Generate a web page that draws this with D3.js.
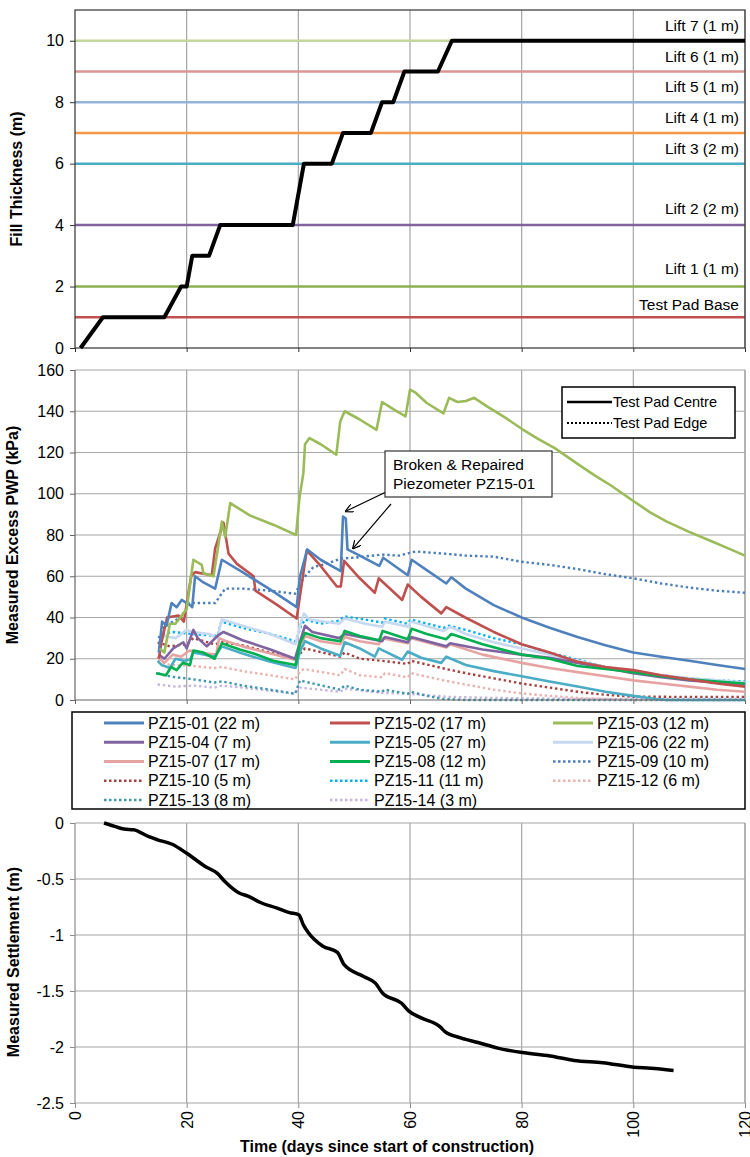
<!DOCTYPE html>
<html>
<head>
<meta charset="utf-8">
<script src="https://cdn.jsdelivr.net/npm/d3@7"></script>
<style>
  body { margin: 0; background: #fff; }
  text { font-family: "Liberation Sans", Arial, sans-serif; fill: #000; }
</style>
</head>
<body>
<svg id="chart" width="750" height="1157"></svg>
<script>
// fill placement (top panel)
var fillDays = [1, 5, 16, 19, 20, 21, 24, 26, 39, 41, 46, 48, 53, 55, 57, 59, 65, 67.5, 120];
var fillThickness = [0, 1, 1, 2, 2, 3, 3, 4, 4, 6, 6, 7, 7, 8, 8, 9, 9, 10, 10];

var liftLevels = [1, 2, 4, 6, 7, 8, 9, 10];
var liftLabels = ['Test Pad Base', 'Lift 1 (1 m)', 'Lift 2 (2 m)', 'Lift 3 (2 m)',
                  'Lift 4 (1 m)', 'Lift 5 (1 m)', 'Lift 6 (1 m)', 'Lift 7 (1 m)'];
var liftLabelAt = [1.4, 2.6, 4.55, 6.5, 7.5, 8.5, 9.5, 10.5];
var fillTicks = [0, 2, 4, 6, 8, 10];

// excess pore pressure, [day, kPa]
var pz01 = [[15, 23], [15.3, 30], [15.6, 38], [16.4, 36], [17.3, 47], [18.2, 45], [19.1, 48.5], [20.6, 46],
  [21, 45], [21.5, 60], [23, 57], [25.1, 54], [26.3, 68], [30, 62], [35, 53.5], [39.7, 45], [40.3, 60],
  [41.6, 73], [44, 68], [47.6, 62.5], [48, 89], [48.5, 88], [48.8, 73], [51, 70], [54.5, 65], [55.2, 69],
  [59.6, 60.5], [60.3, 68], [63, 63], [66.5, 56.5], [67.4, 59.5], [70, 54], [75, 46], [80, 40], [85, 35],
  [90, 30.5], [95, 26.5], [100, 23], [105, 21], [110, 19], [115, 17], [120, 15]];
var pz02 = [[15, 20], [15.5, 28], [16.5, 40], [18.5, 41], [19.5, 38], [20.8, 60], [21.5, 62], [24.5, 60.5],
  [25.1, 73.5], [26.6, 86], [27.5, 71], [29, 66], [32, 60], [32.3, 53], [36, 46.5], [39.7, 39.5], [40.9, 61.5],
  [41.5, 72.5], [44, 65], [46.9, 55], [47.6, 55], [48.2, 67.5], [51, 59], [53.7, 52], [54.4, 59], [58.6, 48.5],
  [59.6, 56], [62, 50], [65.6, 42], [66.5, 45], [69.9, 40], [75, 33], [80, 27], [85, 23], [90, 18.5],
  [95, 16], [100, 14.5], [105, 12], [110, 10], [115, 8], [120, 6.5]];
var pz03 = [[15.2, 25], [16, 23], [17, 37], [18, 37], [19.4, 42], [20, 44], [21.2, 68], [22.7, 65.5],
  [23, 61.5], [24.8, 60], [25.5, 72], [26.3, 86.5], [26.9, 79], [27.8, 95.5], [31.3, 89.5], [35.5, 85],
  [39.6, 80], [40.2, 98], [40.9, 110], [41.2, 124], [42, 127], [44, 124], [46.8, 119], [47.5, 135],
  [48.3, 140], [51, 136], [54, 131], [55, 144.5], [57, 141], [59.2, 137.5], [60, 150.5], [61, 149],
  [63, 144], [66, 139], [67, 146.5], [68.5, 144.5], [70, 145], [71.5, 146.5], [74, 142], [77, 137],
  [80, 131.5], [83, 126.5], [86, 122], [90, 114.5], [93, 109], [96, 104], [100, 96.5], [103, 91],
  [106, 86.5], [110, 81.5], [114, 77], [117, 73.5], [120, 70]];
var pz04 = [[15, 22], [16, 20], [17.6, 25], [19.4, 28], [20, 25], [21.2, 34], [22, 30], [23.6, 26],
  [25.7, 31.5], [26.6, 33], [30, 29], [35, 24.5], [39.4, 20], [40.5, 30], [41.2, 36], [42.5, 33],
  [47.3, 30], [48.3, 32], [55, 28.5], [55.5, 30.5], [59.6, 28], [60.2, 30.5], [66.5, 26], [67.2, 27.5],
  [73, 24.5], [80, 22], [85, 20.5], [90, 18], [95, 15.5], [100, 13], [105, 11], [110, 9.5], [115, 8.5], [120, 7.5]];
var pz05 = [[14.8, 19], [15.5, 17], [17, 15.5], [18, 20], [19.5, 19], [20.6, 19.5], [21.2, 23], [25, 21],
  [26.3, 26], [30, 22.5], [35, 18.5], [39.5, 15.5], [40.3, 23.5], [41.2, 28.5], [44, 25], [47.5, 21.5],
  [48.3, 28], [51, 25], [53.7, 21], [54.4, 25], [58.6, 19.5], [59.6, 23.5], [62, 20.5], [65.6, 18],
  [66.5, 21], [70, 17], [75, 14], [80, 11.5], [85, 9], [90, 6.5], [95, 4], [100, 2], [104, 0.5], [106, 0], [120, 0]];
var pz06 = [[15, 28], [16, 31], [18, 30], [20, 34], [21, 33], [24, 32], [25.5, 30], [26.3, 39], [30, 36],
  [35, 32], [39.5, 27], [40.5, 38], [41, 42], [42, 39], [47.3, 37], [48.3, 39.5], [52, 37], [55, 35.5],
  [55.5, 38], [59.6, 35.5], [60.2, 38], [66, 33.5], [67.2, 35.5], [70, 32], [75, 28], [80, 25], [85, 22],
  [90, 19], [95, 16], [100, 13.5], [105, 12], [110, 10.5], [115, 9.5], [120, 8.5]];
var pz07 = [[14.8, 21], [16, 18], [17.5, 22], [19, 21], [20.5, 24], [22, 23], [25.3, 22], [25.8, 30],
  [26.6, 29], [30, 26], [35, 22.5], [39.4, 19.5], [40.3, 26], [41.2, 31], [44, 28.5], [47.5, 27],
  [48.3, 30.5], [51, 28.5], [54.4, 27], [55, 30], [59.6, 27.5], [60.2, 30], [66.5, 25.5], [67.2, 27],
  [73, 22], [80, 18], [85, 15.5], [90, 13.5], [95, 11.5], [100, 9.5], [105, 8], [110, 6.5], [115, 5], [120, 4]];
var pz08 = [[14.5, 13], [16.3, 12], [17.2, 16], [18.2, 14.5], [19.3, 18], [20.6, 17], [21.2, 24], [23, 23],
  [25, 20], [26.3, 27.5], [29.5, 24.5], [32, 22.5], [35.5, 19], [39.5, 17], [40.3, 27.5], [41.2, 32.5],
  [44, 30], [47.5, 28.5], [48.3, 33.5], [51, 31], [54.5, 29], [55.1, 33.5], [59.6, 29.5], [60.3, 34.5],
  [63, 32], [66.5, 29.5], [67.4, 32], [73, 27], [80, 22], [85, 20], [90, 16.5], [95, 15], [100, 13.5],
  [105, 11.5], [110, 10], [115, 9], [120, 8]];
var pz09 = [[15, 30], [16, 36], [17.5, 38], [19, 40], [20.5, 47], [25.1, 47], [26.9, 54], [30, 54], [35, 53],
  [39.4, 51.5], [40.9, 59], [42.7, 64.5], [45, 66], [47.5, 68.5], [50, 69], [55, 70.5], [58, 70], [61, 72],
  [66, 71], [70, 70], [75, 69.5], [80, 67], [85, 65.5], [90, 63.5], [95, 61], [100, 59], [105, 56.5],
  [110, 54.5], [115, 53], [120, 52]];
var pz10 = [[14.8, 28], [17, 26], [20, 27], [21.2, 30], [25, 27], [26.5, 28], [30, 26.5], [35, 23],
  [39.4, 20], [40.5, 23], [41.2, 25], [47.5, 21], [48.3, 23], [51, 20], [55, 19], [59.6, 17.5], [60.2, 19],
  [66.5, 15], [70, 13], [75, 10.5], [80, 8], [85, 6], [90, 4], [95, 2.5], [100, 1.6], [110, 1.5], [120, 1.5]];
var pz11 = [[15, 30], [16, 32], [17.5, 33], [21, 32], [25.5, 31], [26.2, 38], [30, 35], [35, 32],
  [39.5, 28.5], [40.5, 36], [41.2, 39], [44, 37], [47.3, 38.5], [48.3, 40.5], [52, 39], [55, 37.5],
  [55.5, 39.5], [59.5, 37], [60.2, 39], [66, 35], [67, 36], [70, 34], [75, 30], [80, 27], [85, 23],
  [90, 19.5], [95, 16], [100, 13.5], [105, 12], [110, 10.5], [115, 9.5], [120, 9]];
var pz12 = [[14.8, 19], [17, 17], [21.2, 16.5], [25, 15.5], [26.3, 16], [30, 14], [35, 12], [39.4, 10],
  [40.3, 14], [41, 15], [47.5, 12], [48.3, 15], [51, 12], [55, 11], [55.5, 13], [59.6, 11], [60.2, 13],
  [66, 9.5], [70, 7.5], [75, 5], [80, 3.2], [85, 2], [90, 1], [95, 0.5], [100, 0], [120, 0]];
var pz13 = [[14.8, 13], [16, 12], [18, 11], [20, 10.5], [21.2, 10], [25, 8.5], [26.3, 9], [30, 7], [35, 5],
  [39.4, 3], [40.3, 9.5], [41, 9], [47.5, 5], [48.3, 7], [51, 5], [55, 4], [55.5, 5], [59.6, 3], [60.2, 4],
  [63, 2], [66, 0.5], [70, 0], [120, 0]];
var pz14 = [[14.8, 7.5], [18, 6.5], [21.2, 7], [25, 6], [26.3, 7], [30, 6], [35, 4.5], [39.4, 3], [40.3, 6],
  [47.5, 4], [48.3, 5.5], [55, 3.5], [60, 3], [67, 1.5], [75, 1], [90, 0.5], [120, 0.5]];

var pzSeries = [pz01, pz02, pz03, pz04, pz05, pz06, pz07, pz08, pz09, pz10, pz11, pz12, pz13, pz14];
var pzNames = ['PZ15-01 (22 m)', 'PZ15-02 (17 m)', 'PZ15-03 (12 m)', 'PZ15-04 (7 m)', 'PZ15-05 (27 m)',
  'PZ15-06 (22 m)', 'PZ15-07 (17 m)', 'PZ15-08 (12 m)', 'PZ15-09 (10 m)', 'PZ15-10 (5 m)',
  'PZ15-11 (11 m)', 'PZ15-12 (6 m)', 'PZ15-13 (8 m)', 'PZ15-14 (3 m)'];
var pzTicks = [0, 20, 40, 60, 80, 100, 120, 140, 160];

// settlement
var settleDays = [5.2, 7.1, 8.8, 10.5, 13.1, 14.8, 17.4, 20, 23.4, 25.5, 26.8, 29.4, 31.1, 33.2, 36.2, 38.4,
  40.1, 40.9, 41.8, 44.4, 47, 48.2, 51.7, 53.8, 55.1, 58.5, 59.8, 62, 65.4, 66.2, 69.2, 72.2, 75.7, 80.1,
  85.1, 89.4, 94.5, 100.1, 103.1, 107.2];
var settlement = [0, -0.03, -0.054, -0.06, -0.12, -0.15, -0.19, -0.27, -0.39, -0.45, -0.52, -0.625, -0.655,
  -0.71, -0.76, -0.8, -0.82, -0.91, -0.98, -1.1, -1.155, -1.265, -1.37, -1.43, -1.52, -1.61, -1.68, -1.74,
  -1.82, -1.86, -1.92, -1.96, -2.01, -2.05, -2.08, -2.12, -2.14, -2.18, -2.19, -2.21];
var settleTicks = [0, -0.5, -1, -1.5, -2, -2.5];
var dayTicks = [0, 20, 40, 60, 80, 100, 120];

// styles
var liftColors = ['#c0504d', '#8db04f', '#8064a2', '#4bacc6', '#f79646', '#95b3d7', '#d99694', '#c3d69b'];
var pzColors = ['#4f81bd', '#c0504d', '#9bbb59', '#8064a2', '#4bacc6', '#c6d9f1', '#e6a3a1', '#00b050',
  '#4a7ebb', '#a5423f', '#00b0f0', '#eab2b0', '#3f97ad', '#c5b5dc'];
var pzDotted = [false, false, false, false, false, false, false, false, true, true, true, true, true, true];

var svg = d3.select('#chart');
var gridColor = '#a6a6a6';

var x = d3.scaleLinear().domain([0, 120]).range([75, 745]);
var yFill = d3.scaleLinear().domain([0, 11]).range([348, 10]);
var yPwp = d3.scaleLinear().domain([0, 160]).range([700, 370]);
var ySettle = d3.scaleLinear().domain([-2.5, 0]).range([1103, 823]);

var vGrid = function (g, yTop, yBot) {
  g.selectAll('line.v')
    .data(dayTicks.slice(1))
    .enter()
    .append('line')
    .attr('x1', function (d) { return x(d); })
    .attr('x2', function (d) { return x(d); })
    .attr('y1', yTop).attr('y2', yBot)
    .attr('stroke', gridColor).attr('stroke-width', 1.2);
};

var hGrid = function (g, scale, ticks) {
  g.selectAll('line.h')
    .data(ticks)
    .enter()
    .append('line')
    .attr('x1', x(0)).attr('x2', x(120))
    .attr('y1', function (d) { return scale(d); })
    .attr('y2', function (d) { return scale(d); })
    .attr('stroke', gridColor).attr('stroke-width', 1.2);
};

var styleAxis = function (g, color) {
  g.select('.domain').remove();
  g.selectAll('.tick line').attr('stroke', color);
  g.selectAll('.tick text').style('font-size', '16px').attr('fill', '#000');
};

var yTitle = function (label, cx, cy) {
  svg.append('text')
    .attr('transform', 'translate(' + cx + ',' + cy + ') rotate(-90)')
    .attr('text-anchor', 'middle')
    .style('font-size', '16px')
    .style('font-weight', 'bold')
    .text(label);
};

// ---------- top panel: fill thickness ----------
var fillPanel = svg.append('g');
vGrid(fillPanel, yFill(11), yFill(0));

fillPanel.selectAll('line.lift')
  .data(liftLevels)
  .enter()
  .append('line')
  .attr('x1', x(0)).attr('x2', x(120))
  .attr('y1', function (d) { return yFill(d); })
  .attr('y2', function (d) { return yFill(d); })
  .attr('stroke', function (d, i) { return liftColors[i]; })
  .attr('stroke-width', 2.5);

fillPanel.append('rect')
  .attr('x', x(0)).attr('y', yFill(11))
  .attr('width', x(120) - x(0)).attr('height', yFill(0) - yFill(11))
  .attr('fill', 'none').attr('stroke', '#333').attr('stroke-width', 1.2);

fillPanel.selectAll('text.lift')
  .data(liftLabels)
  .enter()
  .append('text')
  .attr('x', 739)
  .attr('y', function (d, i) { return yFill(liftLabelAt[i]); })
  .attr('dy', '0.35em')
  .attr('text-anchor', 'end')
  .style('font-size', '15.5px')
  .text(function (d) { return d; });

var fillLine = d3.line()
  .x(function (d, i) { return x(fillDays[i]); })
  .y(function (d) { return yFill(d); });

fillPanel.append('path')
  .datum(fillThickness)
  .attr('d', fillLine)
  .attr('fill', 'none')
  .attr('stroke', '#000')
  .attr('stroke-width', 4)
  .attr('stroke-linejoin', 'round');

fillPanel.append('g')
  .attr('transform', 'translate(' + x(0) + ',0)')
  .call(d3.axisLeft(yFill).tickValues(fillTicks).tickSize(5).tickPadding(6))
  .call(styleAxis, '#333');

fillPanel.append('g')
  .attr('transform', 'translate(0,' + yFill(0) + ')')
  .call(d3.axisBottom(x).tickValues(dayTicks).tickSize(4).tickFormat(''))
  .call(styleAxis, '#333');

yTitle('Fill Thickness (m)', 22, 179);

// ---------- middle panel: excess pore pressure ----------
var pwpPanel = svg.append('g');
vGrid(pwpPanel, yPwp(160), yPwp(0));
hGrid(pwpPanel, yPwp, pzTicks.slice(1));
pwpPanel.append('line')
  .attr('x1', x(120)).attr('x2', x(120))
  .attr('y1', yPwp(160)).attr('y2', yPwp(0))
  .attr('stroke', gridColor).attr('stroke-width', 1.2);

var pwpLine = d3.line()
  .x(function (d) { return x(d[0]); })
  .y(function (d) { return yPwp(d[1]); });

var drawOrder = [13, 12, 11, 10, 9, 8, 6, 5, 4, 3, 7, 1, 0, 2];
pwpPanel.selectAll('path.pz')
  .data(drawOrder)
  .enter()
  .append('path')
  .attr('d', function (k) { return pwpLine(pzSeries[k]); })
  .attr('fill', 'none')
  .attr('stroke', function (k) { return pzColors[k]; })
  .attr('stroke-width', function (k) { return pzDotted[k] ? 2.4 : 2.6; })
  .attr('stroke-dasharray', function (k) { return pzDotted[k] ? '2.4,2.8' : null; })
  .attr('stroke-linejoin', 'round');

pwpPanel.append('line')
  .attr('x1', x(0)).attr('x2', x(0))
  .attr('y1', yPwp(160)).attr('y2', yPwp(0))
  .attr('stroke', '#666').attr('stroke-width', 1.2);
pwpPanel.append('line')
  .attr('x1', x(0)).attr('x2', x(120))
  .attr('y1', yPwp(0)).attr('y2', yPwp(0))
  .attr('stroke', '#666').attr('stroke-width', 1.2);

pwpPanel.append('g')
  .attr('transform', 'translate(' + x(0) + ',0)')
  .call(d3.axisLeft(yPwp).tickValues(pzTicks).tickSize(5).tickPadding(6))
  .call(styleAxis, '#666');

pwpPanel.append('g')
  .attr('transform', 'translate(0,' + yPwp(0) + ')')
  .call(d3.axisBottom(x).tickValues(dayTicks).tickSize(4).tickFormat(''))
  .call(styleAxis, '#666');

yTitle('Measured Excess PWP (kPa)', 18, 535);

// centre / edge key
var key = pwpPanel.append('g');
key.append('rect')
  .attr('x', 562).attr('y', 387).attr('width', 173).attr('height', 51)
  .attr('fill', '#fff').attr('stroke', '#000').attr('stroke-width', 1.5);
key.append('line')
  .attr('x1', 567).attr('x2', 612).attr('y1', 402).attr('y2', 402)
  .attr('stroke', '#000').attr('stroke-width', 2.5);
key.append('line')
  .attr('x1', 567).attr('x2', 612).attr('y1', 423).attr('y2', 423)
  .attr('stroke', '#000').attr('stroke-width', 2.2).attr('stroke-dasharray', '2,2');
key.append('text').attr('x', 613).attr('y', 402).attr('dy', '0.35em')
  .style('font-size', '14.5px').text('Test Pad Centre');
key.append('text').attr('x', 613).attr('y', 423).attr('dy', '0.35em')
  .style('font-size', '14.5px').text('Test Pad Edge');

// callout for the broken piezometer
svg.append('defs').append('marker')
  .attr('id', 'arrow')
  .attr('viewBox', '0 0 10 10')
  .attr('refX', 9).attr('refY', 5)
  .attr('markerWidth', 7).attr('markerHeight', 7)
  .attr('orient', 'auto')
  .append('path')
  .attr('d', 'M0,0 L10,5 L0,10')
  .attr('fill', 'none').attr('stroke', '#000').attr('stroke-width', 1.5);

var note = pwpPanel.append('g');
note.append('line')
  .attr('x1', 386).attr('y1', 492)
  .attr('x2', x(48.5)).attr('y2', yPwp(91.5))
  .attr('stroke', '#000').attr('stroke-width', 1.2).attr('marker-end', 'url(#arrow)');
note.append('line')
  .attr('x1', 391).attr('y1', 504)
  .attr('x2', x(49.8)).attr('y2', yPwp(73.5))
  .attr('stroke', '#000').attr('stroke-width', 1.2).attr('marker-end', 'url(#arrow)');
note.append('rect')
  .attr('x', 385).attr('y', 451).attr('width', 167).attr('height', 46)
  .attr('fill', '#fff').attr('stroke', '#333').attr('stroke-width', 1.2);
note.append('text').attr('x', 393).attr('y', 470).style('font-size', '15.5px').text('Broken & Repaired');
note.append('text').attr('x', 393).attr('y', 489).style('font-size', '15.5px').text('Piezometer PZ15-01');

// ---------- series legend ----------
var legend = svg.append('g');
legend.append('rect')
  .attr('x', 72).attr('y', 712).attr('width', 673).attr('height', 97)
  .attr('fill', '#fff').attr('stroke', '#000').attr('stroke-width', 1.5);

var legendCols = [104, 330, 553];
var legendRow = d3.scaleLinear().domain([0, 4]).range([723, 800]);

var item = legend.selectAll('g.item')
  .data(pzNames)
  .enter()
  .append('g')
  .attr('transform', function (d, i) {
    return 'translate(' + legendCols[i % 3] + ',' + legendRow(Math.floor(i / 3)) + ')';
  });

item.append('line')
  .attr('x1', 0).attr('x2', 40).attr('y1', 0).attr('y2', 0)
  .attr('stroke', function (d, i) { return pzColors[i]; })
  .attr('stroke-width', function (d, i) { return pzDotted[i] ? 2.6 : 3; })
  .attr('stroke-dasharray', function (d, i) { return pzDotted[i] ? '2.5,2.5' : null; });

item.append('text')
  .attr('x', 44).attr('y', 0).attr('dy', '0.35em')
  .style('font-size', '16px')
  .text(function (d) { return d; });

// ---------- bottom panel: settlement ----------
var settlePanel = svg.append('g');
vGrid(settlePanel, ySettle(0), ySettle(-2.5));
hGrid(settlePanel, ySettle, settleTicks);
settlePanel.append('line')
  .attr('x1', x(120)).attr('x2', x(120))
  .attr('y1', ySettle(0)).attr('y2', ySettle(-2.5))
  .attr('stroke', gridColor).attr('stroke-width', 1.2);
settlePanel.append('line')
  .attr('x1', x(0)).attr('x2', x(0))
  .attr('y1', ySettle(0)).attr('y2', ySettle(-2.5))
  .attr('stroke', '#8c8c8c').attr('stroke-width', 1.2);

var settleLine = d3.line()
  .curve(d3.curveMonotoneX)
  .x(function (d, i) { return x(settleDays[i]); })
  .y(function (d) { return ySettle(d); });

settlePanel.append('path')
  .datum(settlement)
  .attr('d', settleLine)
  .attr('fill', 'none')
  .attr('stroke', '#000')
  .attr('stroke-width', 3.5)
  .attr('stroke-linejoin', 'round');

settlePanel.append('g')
  .attr('transform', 'translate(' + x(0) + ',0)')
  .call(d3.axisLeft(ySettle).tickValues(settleTicks).tickSize(5).tickPadding(6)
    .tickFormat(function (d) { return String(d); }))
  .call(styleAxis, '#8c8c8c');

var xAxis = settlePanel.append('g')
  .attr('transform', 'translate(0,' + ySettle(-2.5) + ')')
  .call(d3.axisBottom(x).tickValues(dayTicks).tickSize(5))
  .call(styleAxis, '#8c8c8c');

xAxis.selectAll('.tick text')
  .attr('transform', 'rotate(-90)')
  .attr('x', -8).attr('y', 0).attr('dy', '0.35em')
  .attr('text-anchor', 'end');

yTitle('Measured Settlement (m)', 19, 962);

svg.append('text')
  .attr('x', 387).attr('y', 1152)
  .attr('text-anchor', 'middle')
  .style('font-size', '16px')
  .style('font-weight', 'bold')
  .text('Time (days since start of construction)');
</script>
</body>
</html>
